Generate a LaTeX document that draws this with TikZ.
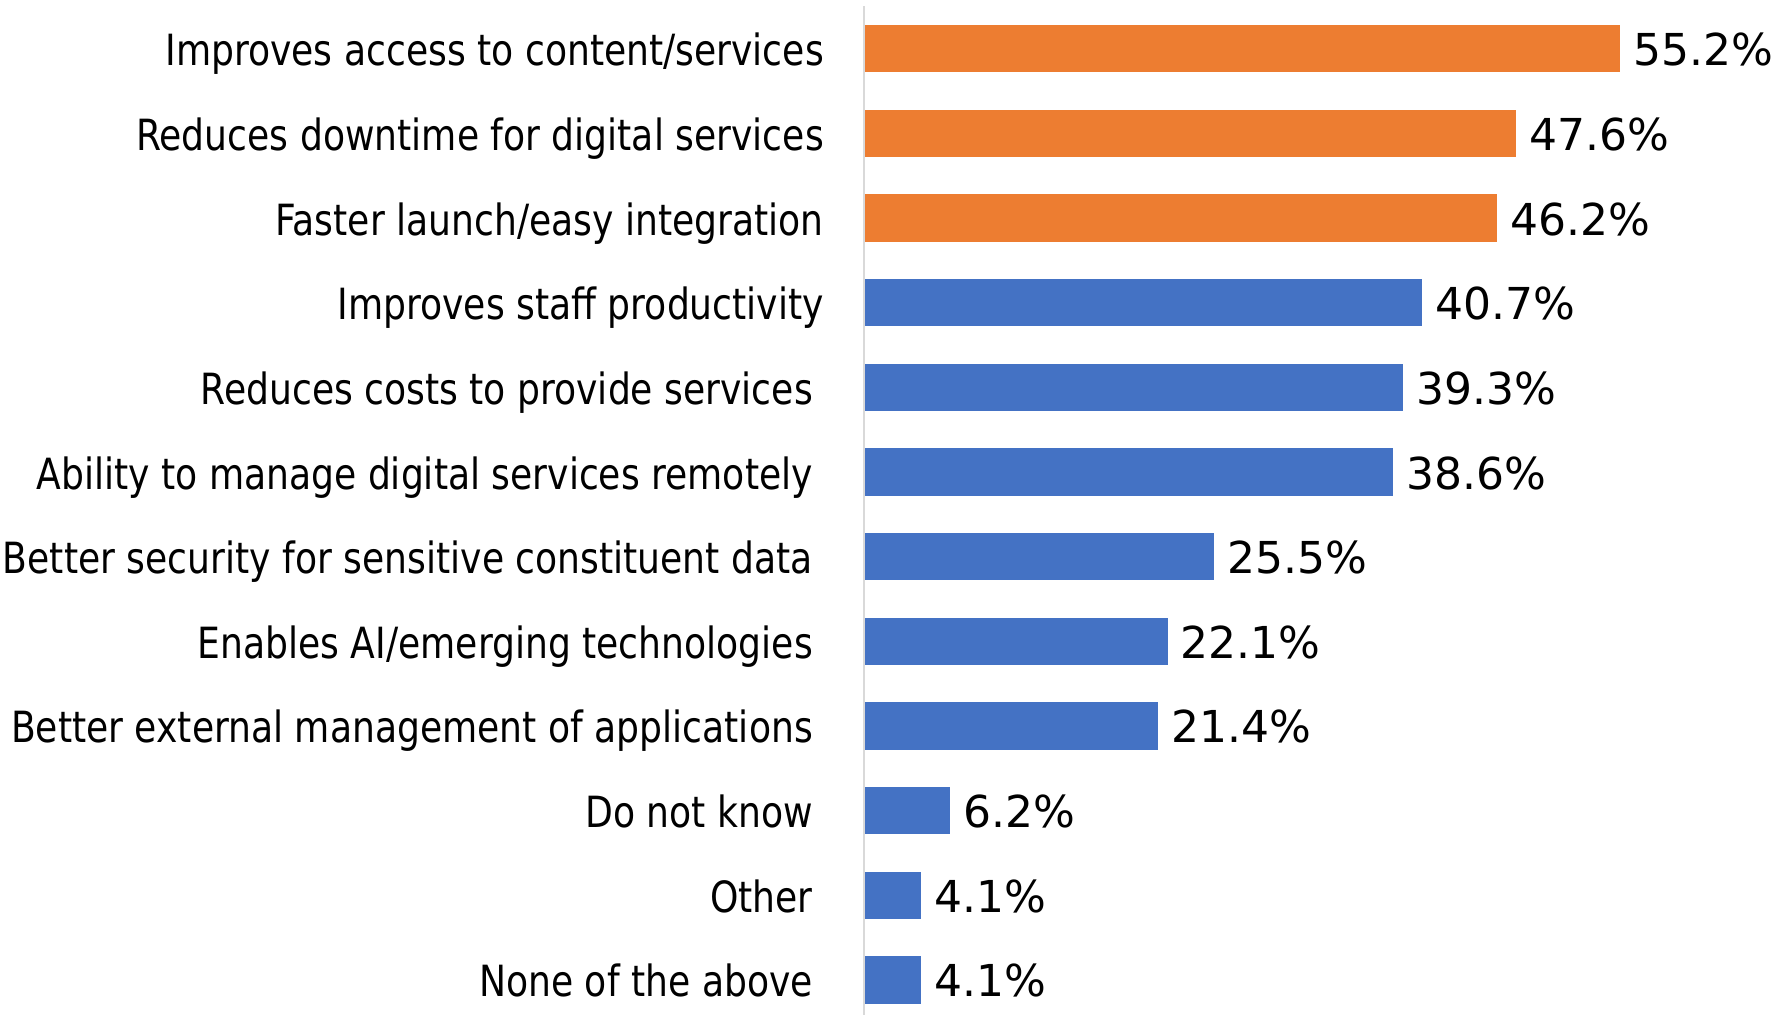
\documentclass[tikz,border=0pt]{standalone}
\usepackage{fontspec}
\setmainfont[FakeStretch=0.84]{DejaVu Sans}
\newfontfamily\numfont{DejaVu Sans}
\definecolor{barorange}{HTML}{ED7D31}
\definecolor{barblue}{HTML}{4472C4}
\definecolor{axisgray}{HTML}{D9D9D9}

\begin{document}
\begin{tikzpicture}[x=1pt,y=-1pt,
    every node/.style={inner sep=0pt},
    bar/.style={fill=#1,minimum height=47.5pt,anchor=west},
    lbl/.style={font=\fontsize{43}{50}\selectfont,anchor=base east},
    val/.style={font=\numfont\fontsize{44}{50}\selectfont,anchor=base west}]
\useasboundingbox (0,0) rectangle (1775,1015);
\draw[axisgray,line width=2pt] (864,6) coordinate (top) -- (864,1015) coordinate (bot);
\foreach \i/\v/\c/\r/\t in {
    1/55.2/barorange/824/{Improves access to content/services},
    2/47.6/barorange/824/{Reduces downtime for digital services},
    3/46.2/barorange/824/{Faster launch/easy integration},
    4/40.7/barblue/824/{Improves staff productivity},
    5/39.3/barblue/813/{Reduces costs to provide services},
    6/38.6/barblue/813/{Ability to manage digital services remotely},
    7/25.5/barblue/813/{Better security for sensitive constituent data},
    8/22.1/barblue/813/{Enables AI/emerging technologies},
    9/21.4/barblue/813/{Better external management of applications},
    10/6.2/barblue/813/{Do not know},
    11/4.1/barblue/813/{Other},
    12/4.1/barblue/813/{None of the above}}
{
  \node[bar=\c,minimum width=\v*13.68pt] (b\i) at (865,{48.7+(\i-1)*84.66}) {};
  \node[lbl] (l\i) at (\r,{65.7+(\i-1)*84.66}) {\t};
  \node[val] (v\i) at ([xshift=13pt,yshift=-17pt]b\i.east) {\v\%};
}
\end{tikzpicture}
\end{document}
